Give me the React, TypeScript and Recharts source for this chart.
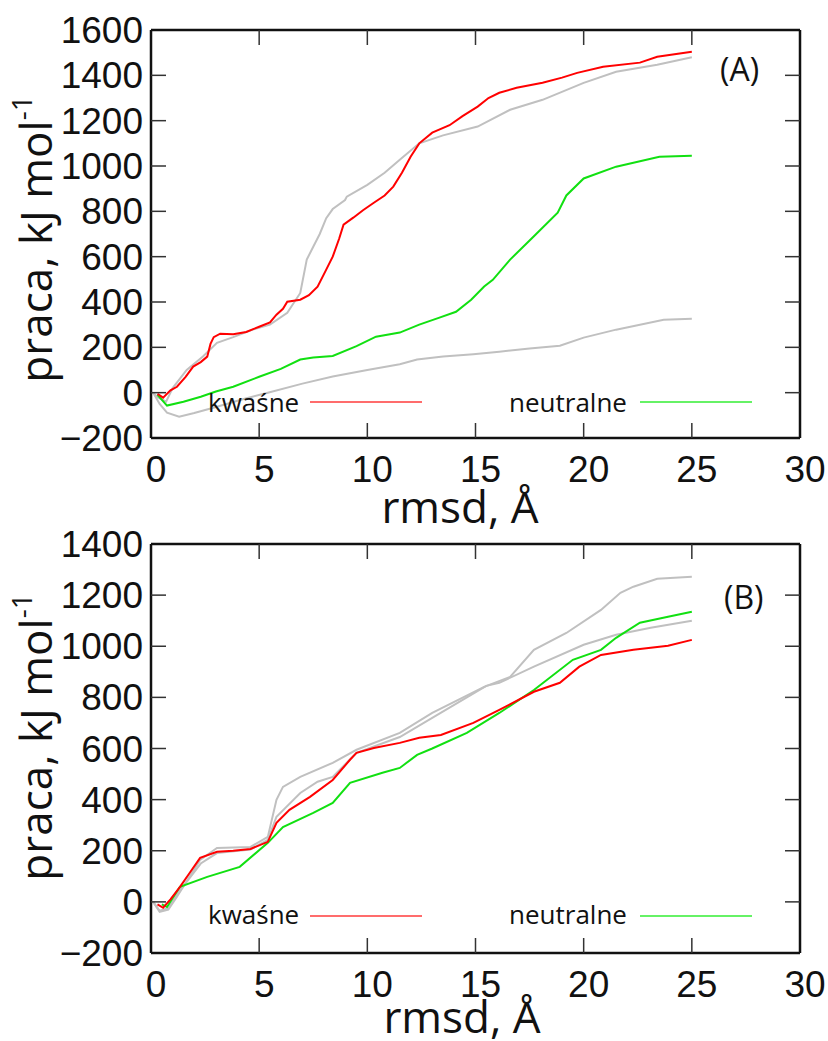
import { Line, LineChart, XAxis, YAxis } from 'recharts';

// rmsd (Å) vs work (kJ/mol)
const rmsdTicks = [0, 5, 10, 15, 20, 25, 30];
const pracaTicksA = [-200, 0, 200, 400, 600, 800, 1000, 1200, 1400, 1600];
const pracaTicksB = [-200, 0, 200, 400, 600, 800, 1000, 1200, 1400];

type Pt = [number, number];

// panel (A)
const redA: Pt[] = [
  [0.3, -5], [0.56, -22], [0.9, 10], [1.2, 26], [1.6, 70], [1.95, 115], [2.3, 135], [2.6, 159],
  [2.75, 215], [2.9, 245], [3.2, 260], [3.8, 258], [4.4, 268], [5.0, 291], [5.5, 310], [5.8, 344],
  [6.1, 370], [6.3, 401], [6.9, 410], [7.3, 430], [7.7, 468], [8.1, 543], [8.4, 600], [8.7, 680],
  [8.9, 741], [9.35, 772], [9.8, 805], [10.3, 838], [10.8, 870], [11.2, 909], [11.6, 970], [12.0, 1041],
  [12.4, 1100], [13.0, 1147], [13.8, 1180], [14.4, 1220], [15.1, 1262], [15.6, 1300], [16.1, 1323],
  [16.9, 1345], [18.1, 1367], [19.0, 1390], [19.7, 1411], [20.9, 1438], [22.6, 1456], [23.4, 1482], [25, 1504],
];
const grayA1: Pt[] = [
  [0.1, 0], [0.3, -20], [0.7, -40], [1.0, 20], [1.65, 100], [2.4, 160], [3.05, 220], [3.8, 245],
  [4.7, 278], [5.5, 300], [6.3, 352], [6.9, 440], [7.2, 587], [7.5, 644], [7.8, 700], [8.1, 770],
  [8.4, 810], [8.97, 850], [9.05, 865], [10, 917], [10.8, 970], [11.5, 1028], [12.4, 1100], [13.5, 1135],
  [15.1, 1174], [16.6, 1248], [18.1, 1292], [20, 1367], [21.5, 1416], [23.4, 1447], [25, 1480],
];
const greenA: Pt[] = [
  [0.3, -10], [0.74, -57], [1.5, -40], [2.3, -18], [3.0, 5], [3.8, 26], [5.0, 70], [6.0, 105],
  [6.9, 146], [7.5, 155], [8.4, 162], [9.5, 205], [10.4, 247], [11.5, 265], [12.4, 300], [13.3, 330],
  [14.1, 357], [14.8, 410], [15.4, 468], [15.8, 498], [16.6, 587], [17.7, 690], [18.8, 794], [19.2, 870],
  [20, 945], [21.5, 997], [23.5, 1041], [25, 1045],
];
const grayA2: Pt[] = [
  [0.1, 0], [0.4, -50], [0.74, -88], [1.3, -106], [2.0, -90], [3.05, -62], [4.2, -30], [5.4, 0],
  [7, 40], [8.4, 71], [10, 100], [11.5, 125], [12.3, 146], [13.5, 160], [14.9, 170], [16.1, 181],
  [17.5, 195], [18.9, 207], [20, 243], [21.5, 278], [23.7, 322], [25, 326],
];

// panel (B)
const redB: Pt[] = [
  [0.3, -10], [0.56, -23], [0.9, 10], [1.34, 59], [1.8, 115], [2.27, 172], [3.05, 196], [3.8, 200],
  [4.6, 207], [5.4, 235], [5.8, 309], [6.4, 360], [7.35, 411], [8.4, 477], [9.2, 556], [9.5, 583],
  [10.3, 602], [11.5, 622], [12.4, 642], [13.4, 653], [14.9, 700], [16.1, 751], [17.7, 822], [18.9, 857],
  [19.8, 920], [20.8, 966], [22.3, 986], [23.9, 1002], [25, 1025],
];
const greenB: Pt[] = [
  [0.5, -10], [0.74, -20], [1.34, 59], [2.6, 98], [4.1, 137], [5.4, 231], [6.1, 293], [7.5, 348],
  [8.4, 387], [9.2, 466], [10.7, 505], [11.5, 524], [12.3, 575], [13.0, 600], [14.6, 661], [16.1, 739],
  [17.7, 829], [19.5, 947], [20.8, 986], [21.5, 1033], [22.6, 1092], [23.9, 1115], [25, 1135],
];
const grayB1: Pt[] = [
  [0.1, 0], [0.4, -39], [0.8, -30], [1.2, 20], [2.27, 164], [3.05, 211], [4.6, 215], [5.4, 254],
  [5.8, 399], [6.1, 450], [6.9, 489], [8.4, 544], [9.5, 595], [11.5, 661], [13.0, 739], [15.4, 841],
  [16.6, 880], [17.7, 986], [19.2, 1052], [20.8, 1142], [21.7, 1209], [22.3, 1233], [23.4, 1264], [25, 1272],
];
const grayB2: Pt[] = [
  [0.1, 0], [0.4, -35], [0.8, -25], [1.3, 40], [2.3, 150], [3.05, 191], [4.6, 205], [5.4, 243],
  [5.8, 333], [6.9, 426], [7.7, 470], [8.4, 489], [9.5, 583], [11.5, 645], [13.0, 720], [14.6, 800],
  [15.5, 845], [16.1, 857], [17.7, 920], [20, 1006], [21.5, 1045], [23.1, 1072], [25, 1100],
];

const toRows = (pts: Pt[]) => pts.map(([r, v]) => ({ r, v }));

const RED = '#ff0000';
const GREEN = '#11e011';
const GRAY = '#c0c0c0';
const TICK_FONT = '"Liberation Sans", Arial, sans-serif';
const LABEL_FONT = '"Open Sans", "Noto Sans", sans-serif';
const TICK_LEN = 15;

const fmt = (v: number) => (v < 0 ? `\u2212${Math.abs(v)}` : `${v}`);

function makeTicks(lo: number, hi: number) {
  const inner = (v: number) => v !== lo && v !== hi;
  const Left = ({ x, y, payload }: any) => (
    <g>
      {inner(payload.value) && <line x1={x} x2={x + TICK_LEN} y1={y} y2={y} stroke="#333" strokeWidth={1.5} />}
      <text x={x - 8} y={y + 13} textAnchor="end" fontSize={37} fontFamily={TICK_FONT} fill="#111">
        {fmt(payload.value)}
      </text>
    </g>
  );
  const Right = ({ x, y, payload }: any) =>
    inner(payload.value) ? <line x1={x} x2={x - TICK_LEN} y1={y} y2={y} stroke="#333" strokeWidth={1.5} /> : <g />;
  return { Left, Right };
}

const BottomTick = ({ x, y, payload }: any) => (
  <g>
    {payload.value !== 0 && payload.value !== 30 && (
      <line x1={x} x2={x} y1={y} y2={y - TICK_LEN} stroke="#333" strokeWidth={1.5} />
    )}
    <text x={x + 5} y={y + 44} textAnchor="middle" fontSize={37} fontFamily={TICK_FONT} fill="#111">
      {payload.value}
    </text>
  </g>
);

const TopTick = ({ x, y, payload }: any) =>
  payload.value !== 0 && payload.value !== 30 ? (
    <line x1={x} x2={x} y1={y} y2={y + TICK_LEN} stroke="#333" strokeWidth={1.5} />
  ) : (
    <g />
  );

const axisLine = { stroke: '#111', strokeWidth: 2.5 };

function Panel({
  series,
  yTicks,
  height,
  top,
  bottom,
}: {
  series: { data: Pt[]; color: string }[];
  yTicks: number[];
  height: number;
  top: number;
  bottom: number;
}) {
  const lo = yTicks[0];
  const hi = yTicks[yTicks.length - 1];
  const { Left, Right } = makeTicks(lo, hi);
  // axis sizes are subtracted from the margins so the plot box lands at x 151..800
  return (
    <LineChart width={828} height={height} margin={{ top: top - 1, right: 27, bottom: bottom - 40, left: 91 }}>
      <XAxis
        xAxisId="b"
        dataKey="r"
        type="number"
        domain={[0, 30]}
        ticks={rmsdTicks}
        allowDataOverflow
        height={40}
        tickSize={0}
        tickMargin={0}
        axisLine={axisLine}
        tickLine={false}
        tick={<BottomTick />}
        interval={0}
      />
      <XAxis
        xAxisId="t"
        orientation="top"
        dataKey="r"
        type="number"
        domain={[0, 30]}
        ticks={rmsdTicks}
        allowDataOverflow
        height={1}
        tickSize={0}
        tickMargin={0}
        axisLine={axisLine}
        tickLine={false}
        tick={<TopTick />}
        interval={0}
      />
      <YAxis
        yAxisId="l"
        type="number"
        domain={[lo, hi]}
        ticks={yTicks}
        allowDataOverflow
        width={60}
        tickSize={0}
        tickMargin={0}
        axisLine={axisLine}
        tickLine={false}
        tick={<Left />}
        interval={0}
      />
      <YAxis
        yAxisId="r"
        orientation="right"
        type="number"
        domain={[lo, hi]}
        ticks={yTicks}
        allowDataOverflow
        width={1}
        tickSize={0}
        tickMargin={0}
        axisLine={axisLine}
        tickLine={false}
        tick={<Right />}
        interval={0}
      />
      {series.map((s, i) => (
        <Line
          key={i}
          xAxisId="b"
          yAxisId="l"
          data={toRows(s.data)}
          dataKey="v"
          type="linear"
          stroke={s.color}
          strokeWidth={2}
          dot={false}
          activeDot={false}
          isAnimationActive={false}
        />
      ))}
    </LineChart>
  );
}

function Overlay() {
  const legend = (y: number, base: number) => (
    <g fontFamily={LABEL_FONT} fontSize={26} fill="#111">
      <text x={208} y={base}>kwaśne</text>
      <line x1={310} x2={422} y1={y} y2={y} stroke="#ff3b3b" strokeWidth={1.5} />
      <text x={509} y={base}>neutralne</text>
      <line x1={640} x2={752} y1={y} y2={y} stroke="#33ee33" strokeWidth={1.5} />
    </g>
  );
  const yTitle = (cy: number) => (
    <text
      transform={`translate(52, ${cy}) rotate(-90)`}
      textAnchor="middle"
      fontFamily={LABEL_FONT}
      fontSize={44}
      fill="#111"
    >
      praca, kJ mol<tspan fontSize={28} dy={-20}>-1</tspan>
    </text>
  );
  return (
    <svg
      width={828}
      height={1041}
      style={{ position: 'absolute', left: 0, top: 0, pointerEvents: 'none' }}
    >
      {yTitle(239)}
      {yTitle(737)}
      <text x={460} y={523} textAnchor="middle" fontFamily={LABEL_FONT} fontSize={44} fill="#111">
        rmsd, Å
      </text>
      <text x={462} y={1033} textAnchor="middle" fontFamily={LABEL_FONT} fontSize={44} fill="#111">
        rmsd, Å
      </text>
      <text x={720} y={81} fontFamily={LABEL_FONT} fontSize={32} fill="#111">(A)</text>
      <text x={724} y={609} fontFamily={LABEL_FONT} fontSize={32} fill="#111">(B)</text>
      {legend(402, 412)}
      {legend(916, 924)}
    </svg>
  );
}

export default function App() {
  return (
    <div style={{ position: 'absolute', left: 0, top: 0, width: 828, height: 1041, background: '#fff' }}>
      <div style={{ position: 'absolute', left: 0, top: 0 }}>
        <Panel
          series={[
            { data: grayA1, color: GRAY },
            { data: grayA2, color: GRAY },
            { data: greenA, color: GREEN },
            { data: redA, color: RED },
          ]}
          yTicks={pracaTicksA}
          height={520}
          top={30}
          bottom={82}
        />
      </div>
      <div style={{ position: 'absolute', left: 0, top: 520 }}>
        <Panel
          series={[
            { data: grayB1, color: GRAY },
            { data: grayB2, color: GRAY },
            { data: greenB, color: GREEN },
            { data: redB, color: RED },
          ]}
          yTicks={pracaTicksB}
          height={521}
          top={24}
          bottom={88}
        />
      </div>
      <Overlay />
    </div>
  );
}
